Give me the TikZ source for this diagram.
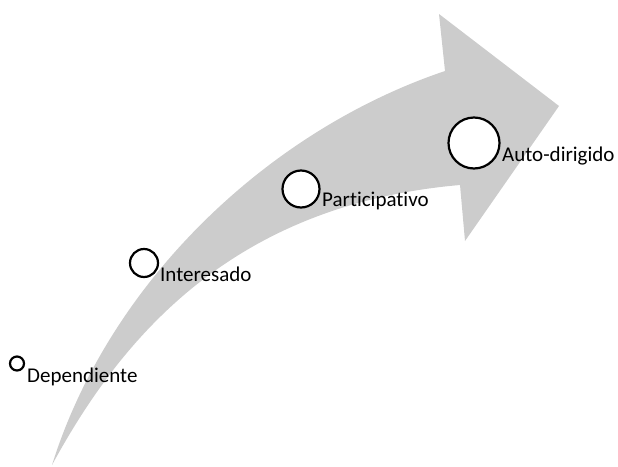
\documentclass[tikz,border=0pt]{standalone}
\usepackage{fontspec}
\setmainfont{Carlito}[Ligatures=NoCommon]
\begin{document}
\begin{tikzpicture}[x=1pt,y=-1pt,
  stage/.style={circle,draw=black,line width=2.2pt,fill=white,inner sep=0pt},
  lbl/.style={anchor=base west,inner sep=0pt,font=\fontsize{21}{25}\selectfont}]
\useasboundingbox (0,0) rectangle (618,466);
\definecolor{arrowgray}{RGB}{204,204,204}
\fill[arrowgray] (52,465) .. controls (110,280) and (270,130) .. (445,71)
  -- (439,14) -- (559,106) -- (465,241) -- (460,185)
  .. controls (230,205) and (120,340) .. (52,465) -- cycle;
\node[stage,minimum size=14pt] (dep) at (17,363.5) {};
\node[stage,minimum size=28pt] (int) at (144,263) {};
\node[stage,minimum size=37pt] (par) at (301,189) {};
\node[stage,minimum size=51pt] (aut) at (474,143) {};
\node[lbl] (tdep) at (27,382) {Dependiente};
\node[lbl] (tint) at (160,281) {Interesado};
\node[lbl] (tpar) at (322,206) {Participativo};
\node[lbl] (taut) at (502,161) {Auto-dirigido};
\end{tikzpicture}
\end{document}
